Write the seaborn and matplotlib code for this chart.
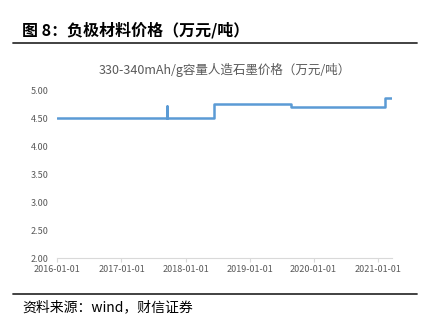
import matplotlib
matplotlib.use("Agg")
import matplotlib.pyplot as plt
import matplotlib.dates as mdates
from matplotlib.lines import Line2D
from matplotlib.ticker import FormatStrFormatter
import seaborn as sns
import pandas as pd

# ---- data ----
change_dates = ["2016-01-01", "2017-09-15", "2017-09-17", "2018-06-14",
                "2019-08-24", "2021-02-13", "2021-03-25"]
prices = [4.50, 4.71, 4.50, 4.745, 4.705, 4.85, 4.85]
ytick_vals = [2.00, 2.50, 3.00, 3.50, 4.00, 4.50, 5.00]
xtick_dates = ["2016-01-01", "2017-01-01", "2018-01-01", "2019-01-01",
               "2020-01-01", "2021-01-01"]
fig_title = "图 8：负极材料价格（万元/吨）"
chart_title = "330-340mAh/g容量人造石墨价格（万元/吨）"
source_text = "资料来源：wind，财信证券"

sns.set_style("white")
plt.rcParams["font.family"] = ["Noto Sans CJK SC", "DejaVu Sans"]

df = pd.DataFrame({"date": pd.to_datetime(change_dates), "price": prices})

fig = plt.figure(figsize=(4.27, 3.26), dpi=100)
ax = fig.add_axes([57.3 / 427, 1 - 258 / 326, (392.3 - 57.3) / 427, (258 - 90) / 326])

sns.lineplot(data=df, x="date", y="price", ax=ax, color="#5B9BD5",
             linewidth=1.8, drawstyle="steps-post")

ax.set_ylim(2.0, 5.0)
ax.set_xlim(pd.Timestamp("2016-01-01"), pd.Timestamp("2021-03-25"))
ax.set_yticks(ytick_vals)
ax.yaxis.set_major_formatter(FormatStrFormatter("%.2f"))
ax.set_xticks(pd.to_datetime(xtick_dates))
ax.xaxis.set_major_formatter(mdates.DateFormatter("%Y-%m-%d"))
ax.set_xlabel("")
ax.set_ylabel("")

for s in ["top", "right", "left"]:
    ax.spines[s].set_visible(False)
ax.spines["bottom"].set_color("#D9D9D9")
ax.spines["bottom"].set_linewidth(0.8)
ax.tick_params(axis="x", colors="#595959", labelsize=6.5, length=3, width=0.8,
               direction="out", color="#D9D9D9", pad=2, bottom=True)
ax.tick_params(axis="y", colors="#595959", labelsize=6.5, length=0, pad=6)

# chart title
fig.text(225 / 427, 1 - 70 / 326, chart_title, ha="center", va="center",
         fontsize=9, color="#595959")

# figure title
fig.text(22 / 427, 1 - 30 / 326, fig_title, ha="left", va="center",
         fontsize=11.5, fontweight="bold", color="black")
fig.add_artist(Line2D([13 / 427, 417 / 427], [1 - 43 / 326, 1 - 43 / 326],
                      transform=fig.transFigure, color="#333333", linewidth=1.3))

# bottom line and source
fig.add_artist(Line2D([13 / 427, 417 / 427], [1 - 294 / 326, 1 - 294 / 326],
                      transform=fig.transFigure, color="#333333", linewidth=1.3))
fig.text(22 / 427, 1 - 307 / 326, source_text, ha="left", va="center",
         fontsize=10, style="italic", color="black")

fig.savefig("out.png", dpi=100)
